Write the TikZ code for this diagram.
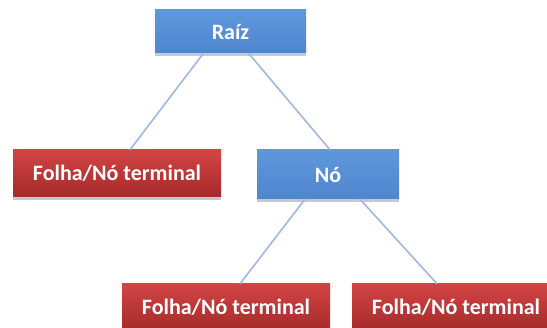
\documentclass[tikz,border=0pt]{standalone}
\usepackage{fontspec}
\setmainfont{Carlito}
\usetikzlibrary{shadows,calc}
\definecolor{boxblue}{HTML}{558ED5}
\definecolor{boxblueT}{HTML}{5F97DC}
\definecolor{boxblueB}{HTML}{4F86CE}
\definecolor{boxredT}{HTML}{D24444}
\definecolor{boxredB}{HTML}{A52A2A}
\definecolor{linkblue}{HTML}{9DB9E2}
\tikzset{
  basebox/.style={draw=none, font=\fontsize{22}{24}\selectfont\bfseries, text=white,
    inner sep=0pt, drop shadow={shadow xshift=0pt, shadow yshift=-3pt, opacity=0.35, fill=black!60}},
  bluebox/.style={basebox, top color=boxblueT, bottom color=boxblueB},
  redbox/.style={basebox, top color=boxredT, bottom color=boxredB, minimum width=208pt, minimum height=47pt},
  link/.style={draw=linkblue, line width=1.6pt}
}
\begin{document}
\begin{tikzpicture}[x=1pt,y=-1pt]
\useasboundingbox (0,0) rectangle (547,328);
\clip (0,0) rectangle (547,328);
\fill[white] (0,0) rectangle (547,328);
% connectors first (drawn below boxes)
\node[bluebox, minimum width=151pt, minimum height=43pt] (raiz) at (230.5,31.5) {Raíz};
\node[redbox] (leafA) at (117,173.5) {Folha/Nó terminal};
\node[bluebox, minimum width=142pt, minimum height=49pt] (no) at (328,174.5) {Nó};
\node[redbox] (leafB) at (226,307.5) {Folha/Nó terminal};
\node[redbox] (leafC) at (456,307.5) {Folha/Nó terminal};
\begin{scope}[on background layer/.style={}]
\end{scope}
\draw[link] ([xshift=-27pt]raiz.south) -- ([xshift=13pt]leafA.north);
\draw[link] ([xshift=18pt]raiz.south) -- ([xshift=2pt]no.north);
\draw[link] ([xshift=-23pt]no.south) -- ([xshift=14pt]leafB.north);
\draw[link] ([xshift=32pt]no.south) -- ([xshift=-19pt]leafC.north);
\end{tikzpicture}
\end{document}
